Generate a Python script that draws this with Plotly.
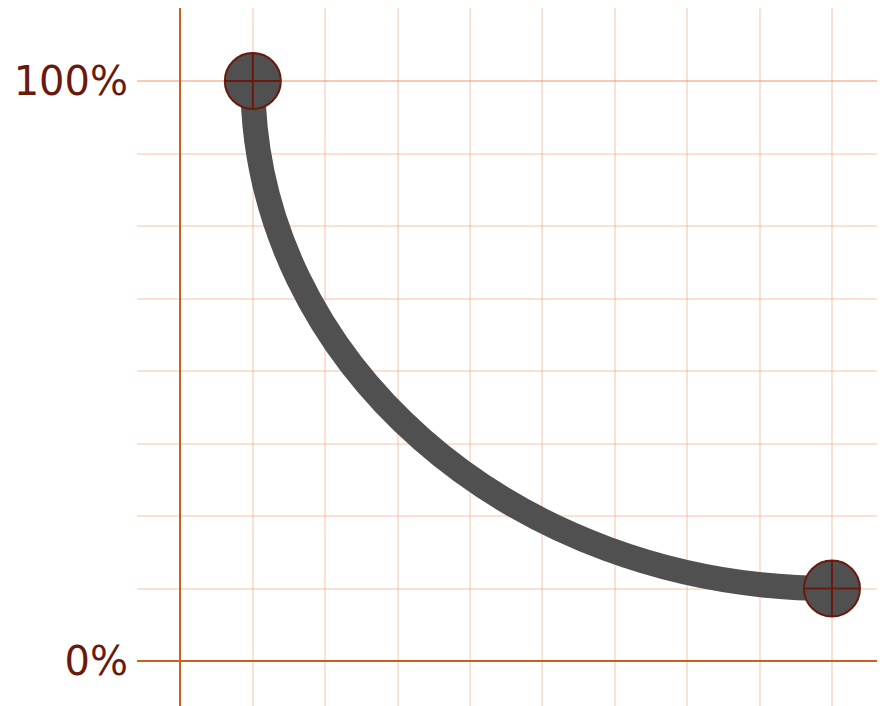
import plotly.graph_objects as go

# End points of the curve (x in grid units, y in percent)
point_x = [1, 9]
point_y = [100, 12.5]

# Y tick labels
ytick_vals = [0, 100]
ytick_text = ["0%", "100%"]

grid_col = "rgba(235,140,95,0.26)"
axis_col = "#c8601e"
text_col = "#6a1a0c"
curve_col = "#505050"

# Quarter-ellipse-like cubic Bezier between the two points (corner at x1, y0)
k = 0.5523
x0, x1 = point_x
y0, y1 = point_y
c1 = (x0, y0 - k * (y0 - y1))
c2 = (x1 - k * (x1 - x0), y1)
path = f"M {x0},{y0} C {c1[0]},{c1[1]} {c2[0]},{c2[1]} {x1},{y1}"

fig = go.Figure()
fig.add_shape(type="path", path=path, xref="x", yref="y", layer="between",
              line=dict(color=curve_col, width=25))
fig.add_trace(go.Scatter(
    x=point_x, y=point_y, mode="markers",
    marker=dict(symbol="circle-cross", size=56, color=curve_col,
                line=dict(color=text_col, width=2)),
    showlegend=False))

fig.update_layout(
    width=885, height=698,
    margin=dict(l=129, r=0, t=0, b=0),
    paper_bgcolor="white", plot_bgcolor="white",
    font=dict(family="DejaVu Sans", size=40, color=text_col),
    xaxis=dict(range=[-0.60, 9.843], dtick=1, tick0=0, showticklabels=False,
               showgrid=True, gridcolor=grid_col, gridwidth=2,
               zeroline=True, zerolinecolor=axis_col, zerolinewidth=2,
               showline=False, ticks=""),
    yaxis=dict(range=[-7.76, 112.59], tickmode="array", tickvals=ytick_vals,
               ticktext=ytick_text, showgrid=True, gridcolor=grid_col, gridwidth=2,
               zeroline=True, zerolinecolor=axis_col, zerolinewidth=2,
               minor=dict(tick0=0, dtick=12.5, showgrid=True, gridcolor=grid_col,
                          gridwidth=2),
               showline=False, ticks="", ticklabelstandoff=8,
               tickfont=dict(color=text_col, size=40)),
)

fig.write_html("out.html")
